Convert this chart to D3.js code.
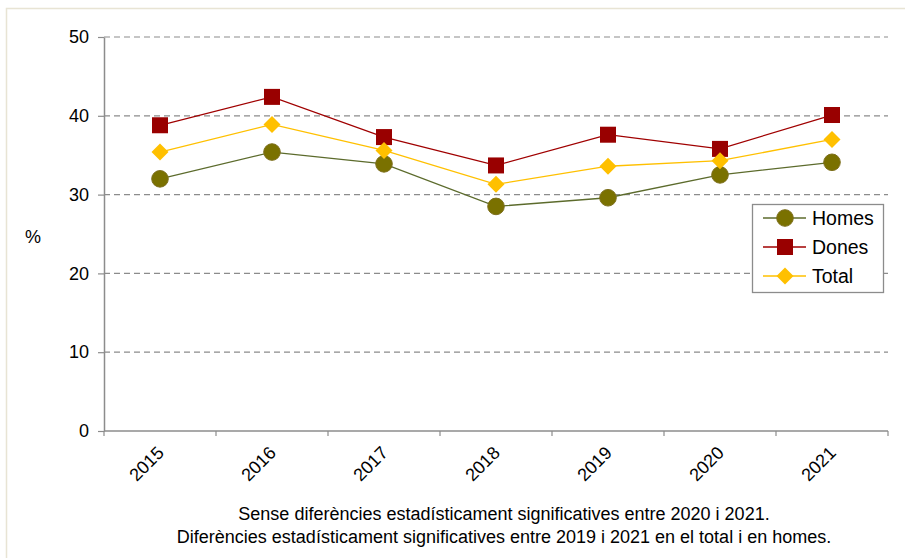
<!DOCTYPE html>
<html>
<head>
<meta charset="utf-8">
<script src="https://cdn.jsdelivr.net/npm/d3@7"></script>
<style>
  body { margin: 0; background: #fff; }
  svg { font-family: "Liberation Sans", Arial, sans-serif; display: block; }
</style>
</head>
<body>
<svg></svg>
<script>
const years = ["2015", "2016", "2017", "2018", "2019", "2020", "2021"];
const homes = [32.0, 35.4, 33.9, 28.5, 29.6, 32.5, 34.1];
const dones = [38.8, 42.4, 37.3, 33.7, 37.6, 35.8, 40.1];
const total = [35.4, 38.9, 35.6, 31.3, 33.6, 34.3, 37.0];
const yTicks = [0, 10, 20, 30, 40, 50];
const notes = [
  "Sense diferències estadísticament significatives entre 2020 i 2021.",
  "Diferències estadísticament significatives entre 2019 i 2021 en el total i en homes."
];

const width = 905;
const height = 558;

const svg = d3.select("svg")
  .attr("width", width)
  .attr("height", height);

// frame round the chart
svg.append("rect")
  .attr("x", 6.5).attr("y", 8.5)
  .attr("width", 920).attr("height", 600)
  .attr("fill", "none")
  .attr("stroke", "#e8e4d4")
  .attr("stroke-width", 1.5);

const margin = { left: 104, right: 17, top: 37, bottom: 127 };

const x = d3.scaleBand()
  .domain(years)
  .range([margin.left, width - margin.right]);

const y = d3.scaleLinear()
  .domain([0, 50])
  .range([height - margin.bottom, margin.top]);

// gridlines
svg.append("g")
  .selectAll("line")
  .data(yTicks.filter(d => d > 0))
  .join("line")
  .attr("x1", margin.left)
  .attr("x2", width - margin.right)
  .attr("y1", d => y(d))
  .attr("y2", d => y(d))
  .attr("stroke", "#8c8c8c")
  .attr("stroke-width", 1.2)
  .attr("stroke-dasharray", "6,4");

// y axis
const yAxis = svg.append("g")
  .attr("transform", `translate(${margin.left},0)`)
  .call(d3.axisLeft(y).tickValues(yTicks).tickSize(6).tickSizeOuter(0).tickPadding(9));
yAxis.attr("font-family", null);
yAxis.select(".domain").attr("stroke", "#8c8c8c").attr("stroke-width", 1.5);
yAxis.selectAll(".tick line").attr("stroke", "#8c8c8c").attr("stroke-width", 1.2);
yAxis.selectAll("text").attr("font-size", 18).attr("fill", "#000");

// x axis (ticks at band edges)
const xAxisG = svg.append("g")
  .attr("transform", `translate(0,${y(0)})`);
xAxisG.append("line")
  .attr("x1", margin.left).attr("x2", width - margin.right)
  .attr("stroke", "#8c8c8c").attr("stroke-width", 1.5);
const edges = years.map(d => x(d)).concat([x(years[years.length - 1]) + x.bandwidth()]);
xAxisG.selectAll("line.tk")
  .data(edges)
  .join("line")
  .attr("class", "tk")
  .attr("x1", d => d).attr("x2", d => d)
  .attr("y1", 0).attr("y2", 5)
  .attr("stroke", "#8c8c8c").attr("stroke-width", 1.2);
xAxisG.selectAll("text")
  .data(years)
  .join("text")
  .attr("transform", d => `translate(${x(d) + x.bandwidth() / 2 + 5},${23}) rotate(-45)`)
  .attr("text-anchor", "end")
  .attr("font-size", 18)
  .attr("fill", "#000")
  .text(d => d);

svg.append("text")
  .attr("x", 33).attr("y", 243)
  .attr("text-anchor", "middle")
  .attr("font-size", 18)
  .text("%");

const series = [
  { name: "Homes", values: homes, line: "#5c6b2c", fill: "#7a7100", stroke: "#7d6f1c", shape: "circle" },
  { name: "Dones", values: dones, line: "#a00000", fill: "#990000", stroke: "#990000", shape: "square" },
  { name: "Total", values: total, line: "#ffc000", fill: "#ffc000", stroke: "#ffc000", shape: "diamond" }
];

const line = d3.line()
  .x((d, i) => x(years[i]) + x.bandwidth() / 2)
  .y(d => y(d));

function marker(g, s) {
  if (s.shape === "circle") {
    g.append("circle").attr("r", 8.3).attr("fill", s.fill).attr("stroke", s.stroke).attr("stroke-width", 1);
  } else if (s.shape === "square") {
    g.append("rect").attr("x", -8).attr("y", -8).attr("width", 16).attr("height", 16).attr("fill", s.fill);
  } else {
    g.append("path").attr("d", "M0,-8.5L8.5,0L0,8.5L-8.5,0Z").attr("fill", s.fill);
  }
}

series.forEach(s => {
  svg.append("path")
    .datum(s.values)
    .attr("d", line)
    .attr("fill", "none")
    .attr("stroke", s.line)
    .attr("stroke-width", 1.3);
});

series.forEach(s => {
  svg.append("g")
    .selectAll("g")
    .data(s.values)
    .join("g")
    .attr("transform", (d, i) => `translate(${x(years[i]) + x.bandwidth() / 2},${y(d)})`)
    .each(function () { marker(d3.select(this), s); });
});

// legend
const legend = svg.append("g");
legend.append("rect")
  .attr("x", 752.5).attr("y", 204.5)
  .attr("width", 131).attr("height", 88)
  .attr("fill", "#fff")
  .attr("stroke", "#8c8c8c")
  .attr("stroke-width", 1.3);
series.forEach((s, i) => {
  const ly = 218 + i * 29;
  const g = legend.append("g");
  g.append("line")
    .attr("x1", 763).attr("x2", 806)
    .attr("y1", ly).attr("y2", ly)
    .attr("stroke", s.line).attr("stroke-width", 1.3);
  marker(g.append("g").attr("transform", `translate(785,${ly})`), s);
  g.append("text")
    .attr("x", 812).attr("y", ly + 7)
    .attr("font-size", 19.5)
    .text(s.name);
});

svg.selectAll("text.note")
  .data(notes)
  .join("text")
  .attr("class", "note")
  .attr("x", 504)
  .attr("y", (d, i) => 520 + i * 23)
  .attr("text-anchor", "middle")
  .attr("font-size", 18)
  .text(d => d);
</script>
</body>
</html>
